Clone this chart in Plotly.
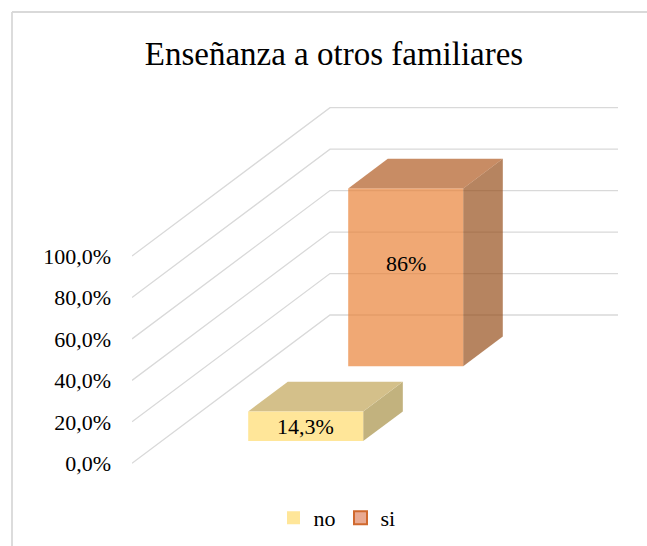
import plotly.graph_objects as go

# ---- data ----
series_names = ["no", "si"]
series_values = [14.3, 85.7]
label_texts = ["14,3%", "86%"]
tick_values = [0, 20, 40, 60, 80, 100]
tick_labels = ["0,0%", "20,0%", "40,0%", "60,0%", "80,0%", "100,0%"]
title_text = "Enseñanza a otros familiares"

# ---- style / geometry ----
W, H = 647, 546
ML, MR, MT, MB = 132, 27, 90, 66
PLOT_W = W - ML - MR
PLOT_H = H - MT - MB
PX_PER_UNIT = 2.0733          # vertical pixels per percent on the front plane
ZERO_PX_FROM_BOTTOM = 480 - 463.3
Y_MIN = -ZERO_PX_FROM_BOTTOM / PX_PER_UNIT
Y_MAX = Y_MIN + PLOT_H / PX_PER_UNIT

DX = 198.0                    # full-depth horizontal shift (x units = px)
DY = 148.3 / PX_PER_UNIT      # full-depth vertical shift (value units)
X_END = 486.0                 # back wall right end
CAT_CENTER = 144.0
HALF_W = 57.5
BAR_DEPTH = 0.2
depth_start = [0.15, 0.655]
label_frac = [0.5, 0.58]

face_colors = [
    dict(front="#FFE699", top="#D4C08A", side="#C2B27E", opacity=1.0),
    dict(front="rgb(233,126,48)", top="rgb(173,83,24)", side="rgb(146,71,18)", opacity=0.67),
]
legend_colors = [("#FFE699", "#FFE699"), ("#E9AA92", "#D0692E")]

FONT = "Liberation Serif, Times New Roman, serif"
GRID = "#D9D9D9"

fig = go.Figure()

# back-wall / side-wall gridlines
for v in tick_values:
    fig.add_trace(go.Scatter(
        x=[0, DX, X_END], y=[v, v + DY, v + DY], mode="lines",
        line=dict(color=GRID, width=1.3), hoverinfo="skip", showlegend=False))


def proj(x, v, d):
    return x + d * DX, v + d * DY


# draw back series first
order = sorted(range(len(series_values)), key=lambda i: -depth_start[i])
for i in order:
    v = series_values[i]
    d0 = depth_start[i]
    d1 = d0 + BAR_DEPTH
    xl, xr = CAT_CENTER - HALF_W, CAT_CENTER + HALF_W
    c = face_colors[i]
    faces = {
        "side": [proj(xr, 0, d0), proj(xr, 0, d1), proj(xr, v, d1), proj(xr, v, d0)],
        "top": [proj(xl, v, d0), proj(xr, v, d0), proj(xr, v, d1), proj(xl, v, d1)],
        "front": [proj(xl, 0, d0), proj(xr, 0, d0), proj(xr, v, d0), proj(xl, v, d0)],
    }
    for name in ["side", "top", "front"]:
        pts = faces[name]
        fig.add_trace(go.Scatter(
            x=[p[0] for p in pts] + [pts[0][0]],
            y=[p[1] for p in pts] + [pts[0][1]],
            mode="lines", fill="toself", fillcolor=c[name],
            line=dict(width=0, color=c[name]), opacity=c["opacity"],
            hoverinfo="skip", showlegend=False))
    lx, ly = proj(CAT_CENTER, v * label_frac[i], d0)
    fig.add_annotation(x=lx, y=ly, xref="x", yref="y", text=label_texts[i],
                       showarrow=False, font=dict(family=FONT, size=22, color="#000000"))

# legend entries
for i, name in enumerate(series_names):
    fill, border = legend_colors[i]
    fig.add_trace(go.Scatter(
        x=[None], y=[None], mode="markers", name=name,
        marker=dict(symbol="square", size=13, color=fill,
                    line=dict(color=border, width=2 if i == 1 else 0)),
        showlegend=True))

# chart border: only top and left edges are inside the picture
bx0 = (12 - ML) / PLOT_W
bx1 = 1 + MR / PLOT_W
by_top = (PLOT_H + MT - 12) / PLOT_H
by_bot = -MB / PLOT_H
fig.add_shape(type="line", xref="paper", yref="paper", x0=bx0, x1=bx1, y0=by_top, y1=by_top,
              line=dict(color=GRID, width=1.8), layer="below")
fig.add_shape(type="line", xref="paper", yref="paper", x0=bx0, x1=bx0, y0=by_bot, y1=by_top,
              line=dict(color=GRID, width=1.8), layer="below")

fig.update_layout(
    width=W, height=H,
    autosize=False,
    margin=dict(l=ML, r=MR, t=MT, b=MB, autoexpand=False),
    paper_bgcolor="white", plot_bgcolor="white",
    title=dict(text=title_text, x=334 / W, xanchor="center", y=1 - 53 / H, yanchor="middle",
               font=dict(family=FONT, size=33, color="#000000")),
    xaxis=dict(range=[0, PLOT_W], visible=False, fixedrange=True, automargin=False),
    yaxis=dict(range=[Y_MIN, Y_MAX], tickmode="array", tickvals=tick_values, ticktext=tick_labels,
               showgrid=False, zeroline=False, showline=False, ticks="",
               ticklabelstandoff=20, automargin=False,
               tickfont=dict(family=FONT, size=22, color="#000000"), fixedrange=True),
    legend=dict(orientation="h", x=(337 - ML) / PLOT_W, xanchor="center",
                y=-(518 - (H - MB)) / PLOT_H, yanchor="middle",
                font=dict(family=FONT, size=22, color="#000000"),
                itemwidth=30, bgcolor="rgba(0,0,0,0)"),
    showlegend=True,
)

fig.write_html("out.html", config={"displayModeBar": False},
               post_script="document.body.style.margin='0';document.body.style.overflow='hidden';")
